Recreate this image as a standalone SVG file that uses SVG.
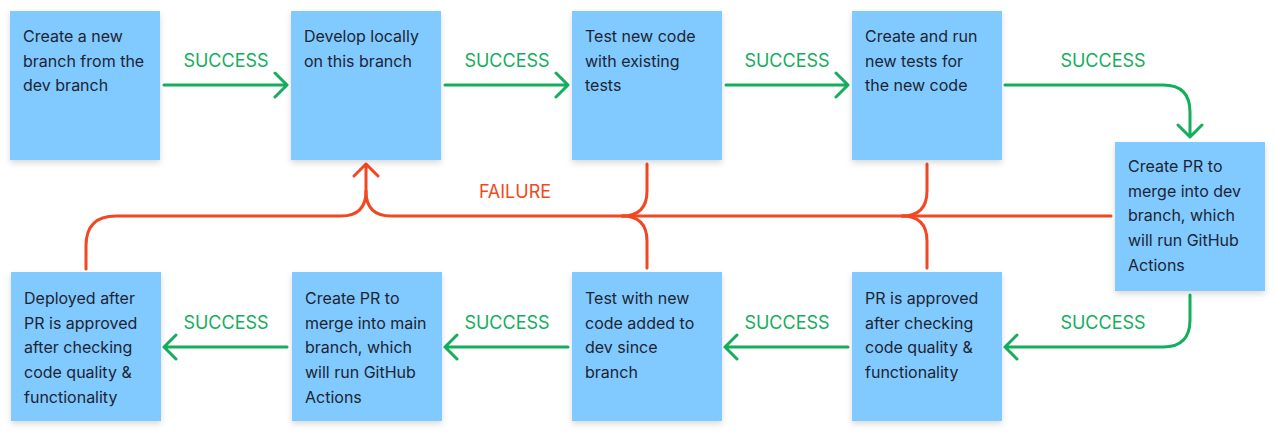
<svg xmlns="http://www.w3.org/2000/svg" width="1275" height="436" viewBox="0 0 1275 436">
<defs>
<filter id="sh" x="-10%" y="-10%" width="120%" height="125%">
<feDropShadow dx="0" dy="3" stdDeviation="3" flood-color="#000" flood-opacity="0.15"/>
</filter>
<style>
.box{fill:#80caff;filter:url(#sh)}
.t{font-family:Inter,"Noto Sans",sans-serif;font-size:16px;fill:#1e2432}
.lbl{font-family:Inter,"Noto Sans",sans-serif;font-size:18px;text-anchor:middle}
.g{fill:#14ae5c}
.r{fill:#f24822}
.gs{fill:none;stroke:#14ae5c;stroke-width:3;stroke-linecap:round;stroke-linejoin:round}
.rs{fill:none;stroke:#f24822;stroke-width:3;stroke-linecap:round;stroke-linejoin:round}
</style>
</defs>
<rect width="1275" height="436" fill="#fff"/>
<g id="connectors">
<path class="gs" d="M164 85H287M275 73L287 85L275 97"/>
<path class="gs" d="M445 85H568M556 73L568 85L556 97"/>
<path class="gs" d="M726 85H848M836 73L848 85L836 97"/>
<path class="gs" d="M1005 85H1163Q1190 85 1190 112V137M1178 125L1190 137L1202 125"/>
<path class="gs" d="M1190 295V320Q1190 347 1163 347H1005M1017 335L1005 347L1017 359"/>
<path class="gs" d="M848 347H725M737 335L725 347L737 359"/>
<path class="gs" d="M568 347H445M457 335L445 347L457 359"/>
<path class="gs" d="M287 347H164M176 335L164 347L176 359"/>
<path class="rs" d="M1111 216H391Q366 216 366 191V164M354 176L366 164L378 176"/>
<path class="rs" d="M86 269V246Q86 216 116 216H341Q366 216 366 191"/>
<path class="rs" d="M647 164V191Q647 216 622 216"/>
<path class="rs" d="M647 268V241Q647 216 622 216"/>
<path class="rs" d="M927 164V191Q927 216 902 216"/>
<path class="rs" d="M927 268V241Q927 216 902 216"/>
<text class="lbl g" x="226" y="67">SUCCESS</text>
<text class="lbl g" x="507" y="67">SUCCESS</text>
<text class="lbl g" x="787" y="67">SUCCESS</text>
<text class="lbl g" x="1103" y="67">SUCCESS</text>
<text class="lbl g" x="1103" y="329">SUCCESS</text>
<text class="lbl g" x="787" y="329">SUCCESS</text>
<text class="lbl g" x="507" y="329">SUCCESS</text>
<text class="lbl g" x="226" y="329">SUCCESS</text>
<text class="lbl r" x="515" y="198">FAILURE</text>
</g>
<g id="n1"><rect class="box" x="10" y="11" width="150" height="149"/>
<text class="t" x="23" y="42"><tspan x="23">Create a new</tspan><tspan x="23" dy="24.7">branch from the</tspan><tspan x="23" dy="24.7">dev branch</tspan></text></g>
<g id="n2"><rect class="box" x="291" y="11" width="150" height="149"/>
<text class="t" x="304" y="42"><tspan x="304">Develop locally</tspan><tspan x="304" dy="24.7">on this branch</tspan></text></g>
<g id="n3"><rect class="box" x="572" y="11" width="150" height="149"/>
<text class="t" x="585" y="42"><tspan x="585">Test new code</tspan><tspan x="585" dy="24.7">with existing</tspan><tspan x="585" dy="24.7">tests</tspan></text></g>
<g id="n4"><rect class="box" x="852" y="11" width="150" height="149"/>
<text class="t" x="865" y="42"><tspan x="865">Create and run</tspan><tspan x="865" dy="24.7">new tests for</tspan><tspan x="865" dy="24.7">the new code</tspan></text></g>
<g id="n5"><rect class="box" x="1115" y="142" width="150" height="149"/>
<text class="t" x="1128" y="172"><tspan x="1128">Create PR to</tspan><tspan x="1128" dy="24.7">merge into dev</tspan><tspan x="1128" dy="24.7">branch, which</tspan><tspan x="1128" dy="24.7">will run GitHub</tspan><tspan x="1128" dy="24.7">Actions</tspan></text></g>
<g id="n6"><rect class="box" x="852" y="272" width="150" height="149"/>
<text class="t" x="865" y="304"><tspan x="865">PR is approved</tspan><tspan x="865" dy="24.7">after checking</tspan><tspan x="865" dy="24.7">code quality &amp;</tspan><tspan x="865" dy="24.7">functionality</tspan></text></g>
<g id="n7"><rect class="box" x="572" y="272" width="150" height="149"/>
<text class="t" x="585" y="304"><tspan x="585">Test with new</tspan><tspan x="585" dy="24.7">code added to</tspan><tspan x="585" dy="24.7">dev since</tspan><tspan x="585" dy="24.7">branch</tspan></text></g>
<g id="n8"><rect class="box" x="292" y="272" width="150" height="149"/>
<text class="t" x="305" y="304"><tspan x="305">Create PR to</tspan><tspan x="305" dy="24.7">merge into main</tspan><tspan x="305" dy="24.7">branch, which</tspan><tspan x="305" dy="24.7">will run GitHub</tspan><tspan x="305" dy="24.7">Actions</tspan></text></g>
<g id="n9"><rect class="box" x="11" y="272" width="150" height="149"/>
<text class="t" x="24" y="304"><tspan x="24">Deployed after</tspan><tspan x="24" dy="24.7">PR is approved</tspan><tspan x="24" dy="24.7">after checking</tspan><tspan x="24" dy="24.7">code quality &amp;</tspan><tspan x="24" dy="24.7">functionality</tspan></text></g>
</svg>
